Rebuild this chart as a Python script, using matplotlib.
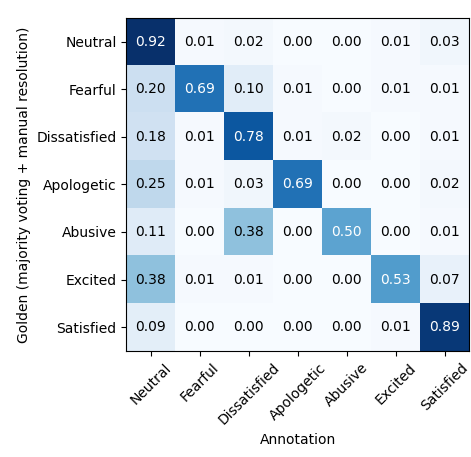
import matplotlib
matplotlib.use("Agg")
import matplotlib.pyplot as plt
import numpy as np

labels = ["Neutral", "Fearful", "Dissatisfied", "Apologetic", "Abusive", "Excited", "Satisfied"]
cm = np.array([
    [0.92, 0.01, 0.02, 0.00, 0.00, 0.01, 0.03],
    [0.20, 0.69, 0.10, 0.01, 0.00, 0.01, 0.01],
    [0.18, 0.01, 0.78, 0.01, 0.02, 0.00, 0.01],
    [0.25, 0.01, 0.03, 0.69, 0.00, 0.00, 0.02],
    [0.11, 0.00, 0.38, 0.00, 0.50, 0.00, 0.01],
    [0.38, 0.01, 0.01, 0.00, 0.00, 0.53, 0.07],
    [0.09, 0.00, 0.00, 0.00, 0.00, 0.01, 0.89],
])

fig = plt.figure(figsize=(4.71, 4.57), dpi=100)
ax = fig.add_axes([0.268, 0.232, 0.728, 0.729])
ax.imshow(cm, cmap="Blues", aspect="auto")
thresh = cm.max() / 2
for i in range(cm.shape[0]):
    for j in range(cm.shape[1]):
        ax.text(j, i, f"{cm[i, j]:.2f}", ha="center", va="center",
                color="white" if cm[i, j] > thresh else "black", fontsize=10)
ax.set_xticks(range(len(labels)))
ax.set_yticks(range(len(labels)))
ax.set_xticklabels(labels, rotation=45, ha="center", rotation_mode="default")
ax.set_yticklabels(labels)
ax.set_xlabel("Annotation")
ax.set_ylabel("Golden (majority voting + manual resolution)")
fig.savefig("out.png", dpi=100)
